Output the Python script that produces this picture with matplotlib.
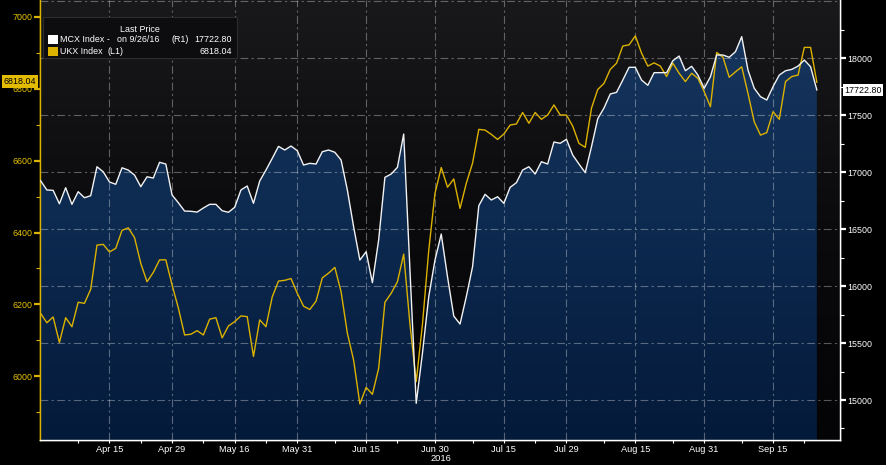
import numpy as np
import pandas as pd
import matplotlib
matplotlib.use("Agg")
import matplotlib.pyplot as plt
from matplotlib.patches import Polygon, Rectangle
from matplotlib.colors import LinearSegmentedColormap

plt.rcParams['font.family'] = ['Liberation Sans', 'DejaVu Sans']

# ---------------- data ----------------
uk_holidays = ['2016-05-02', '2016-05-30', '2016-08-29']
dates = pd.bdate_range('2016-03-31', '2016-09-26')
dates = dates[~dates.isin(pd.to_datetime(uk_holidays))]

mcx = [16925, 16844, 16841, 16723, 16864, 16718, 16829, 16776, 16794, 17048,
       17004, 16914, 16894, 17039, 17019, 16975, 16873, 16960, 16949, 17087,
       17072, 16800, 16732, 16659, 16657, 16650, 16686, 16718, 16718, 16662,
       16648, 16692, 16844, 16879, 16727, 16923, 17019, 17122, 17227, 17195,
       17230, 17189, 17063, 17078, 17072, 17180, 17195, 17175, 17107, 16844,
       16521, 16229, 16302, 16030, 16405, 16955, 16984, 17043, 17335, 16141,
       14971, 15413, 15907, 16229, 16457, 16082, 15737, 15667, 15907, 16170,
       16706, 16806, 16756, 16785, 16727, 16867, 16908, 17019, 17048, 16984,
       17092, 17072, 17265, 17254, 17289, 17151, 17072, 16996, 17224, 17470,
       17564, 17687, 17701, 17809, 17921, 17921, 17809, 17763, 17874, 17874,
       17874, 17979, 18020, 17891, 17930, 17853, 17737, 17838, 18029, 18029,
       18009, 18058, 18190, 17897, 17737, 17663, 17634, 17751, 17853, 17891,
       17903, 17932, 17985, 17926, 17722.80]

ukx = [6175, 6149, 6165, 6094, 6163, 6138, 6206, 6203, 6242, 6365,
       6367, 6346, 6356, 6406, 6413, 6386, 6314, 6263, 6289, 6324,
       6324, 6254, 6190, 6115, 6117, 6127, 6115, 6159, 6163, 6107,
       6140, 6152, 6168, 6166, 6055, 6157, 6138, 6221, 6265, 6267,
       6272, 6231, 6195, 6186, 6209, 6274, 6287, 6303, 6235, 6120,
       6045, 5923, 5969, 5950, 6022, 6206, 6231, 6263, 6340, 6145,
       5985, 6145, 6350, 6509, 6581, 6526, 6549, 6467, 6537, 6593,
       6687, 6685, 6673, 6659, 6674, 6699, 6702, 6734, 6704, 6734,
       6715, 6727, 6755, 6727, 6727, 6696, 6648, 6637, 6746, 6798,
       6815, 6854, 6871, 6919, 6922, 6947, 6899, 6863, 6872, 6863,
       6834, 6871, 6843, 6820, 6843, 6829, 6792, 6750, 6901, 6888,
       6832, 6847, 6861, 6787, 6708, 6671, 6678, 6736, 6715, 6820,
       6834, 6838, 6915, 6915, 6818.04]

major_dates = ['2016-04-15', '2016-04-29', '2016-05-16', '2016-05-31', '2016-06-15',
               '2016-06-30', '2016-07-15', '2016-07-29', '2016-08-15', '2016-08-31',
               '2016-09-15']
major_labels = ['Apr 15', 'Apr 29', 'May 16', 'May 31', 'Jun 15', 'Jun 30',
                'Jul 15', 'Jul 29', 'Aug 15', 'Aug 31', 'Sep 15']
minor_dates = ['2016-04-08', '2016-04-22', '2016-05-09', '2016-05-23', '2016-06-08',
               '2016-06-22', '2016-07-08', '2016-07-22', '2016-08-08', '2016-08-23',
               '2016-09-08', '2016-09-22']
left_ticks = [6000, 6200, 6400, 6600, 6800, 7000]
left_minor = [5900, 6100, 6300, 6500, 6700, 6900]
right_ticks = [15000, 15500, 16000, 16500, 17000, 17500, 18000]
right_minor = [14750, 15250, 15750, 16250, 16750, 17250, 17750, 18250]

last_mcx_label = '17722.80'
last_ukx_label = '6818.04'
last_date_label = '9/26/16'

# ---------------- figure ----------------
W, H = 886, 465
fig = plt.figure(figsize=(W / 100, H / 100), dpi=100, facecolor='black')
ax = fig.add_axes([40 / W, 25 / H, 800 / W, 440 / H])
ax2 = ax.twinx()

x = np.arange(len(dates))
pos = {d: i for i, d in enumerate(dates)}
major_idx = [pos[pd.Timestamp(d)] for d in major_dates]
minor_idx = [pos[pd.Timestamp(d)] for d in minor_dates]

xlim = (-0.1, 127.7)
ylim_l = (5822.8, 7046.9)
ylim_r = (14649, 18512)

YEL = '#dcb200'
YEL_TXT = '#e6c200'
FS = 6.4

# background gradient
grad = np.linspace(0, 1, 256).reshape(-1, 1)
bg_cmap = LinearSegmentedColormap.from_list('bg', ['#19191c', '#0b0b0e', '#040406'])
ax2.imshow(grad, extent=[xlim[0], xlim[1], ylim_r[0], ylim_r[1]], aspect='auto',
           cmap=bg_cmap, origin='upper', zorder=0, interpolation='bilinear')

# area under MCX with vertical gradient
fill_cmap = LinearSegmentedColormap.from_list('fill', ['#18375f', '#0d2a50', '#041a3a'])
im = ax2.imshow(grad, extent=[xlim[0], xlim[1], ylim_r[0], ylim_r[1]], aspect='auto',
                cmap=fill_cmap, origin='upper', zorder=1, interpolation='bilinear')
verts = [(x[0], ylim_r[0])] + list(zip(x, mcx)) + [(x[-1], ylim_r[0])]
poly = Polygon(verts, closed=True, facecolor='none', edgecolor='none',
               transform=ax2.transData)
ax2.add_patch(poly)
im.set_clip_path(poly)

# grid lines
gstyle = dict(color='white', alpha=0.33, linewidth=0.8, linestyle=(0, (7, 3, 2, 3)), zorder=2)
for v in right_ticks + [18500]:
    ax2.axhline(v, **gstyle)
for t in major_idx:
    ax2.axvline(t, **gstyle)

# series
ax2.plot(x, ukx, color=YEL, linewidth=1.0, zorder=4, transform=ax.transData)
ax2.plot(x, mcx, color='#f2f2f2', linewidth=1.0, zorder=5)

ax.set_xlim(*xlim)
ax2.set_xlim(*xlim)
ax.set_ylim(*ylim_l)
ax2.set_ylim(*ylim_r)

# spines
for a in (ax, ax2):
    a.spines['top'].set_visible(False)
    a.spines['left'].set_color(YEL)
    a.spines['right'].set_color('white')
    a.spines['bottom'].set_color('white')
    for s in a.spines.values():
        s.set_linewidth(1.0)
ax.set_facecolor('black')

# x axis
ax.set_xticks(major_idx)
ax.set_xticklabels(major_labels)
ax.set_xticks(minor_idx, minor=True)
ax.tick_params(axis='x', which='both', colors='white', direction='out', length=2.5,
               width=0.8, pad=1.0, labelsize=FS + 0.3)

# left axis
ax.set_yticks(left_ticks)
ax.set_yticks(left_minor, minor=True)
ax.tick_params(axis='y', which='major', colors=YEL, labelcolor=YEL_TXT, direction='out',
               length=4.5, width=1.6, pad=1.0, labelsize=FS)
ax.tick_params(axis='y', which='minor', colors=YEL, direction='out', length=3, width=0.8)

# right axis
ax2.set_yticks(right_ticks)
ax2.set_yticks(right_minor, minor=True)
ax2.tick_params(axis='y', which='major', colors='white', direction='out',
                length=4.5, width=1.6, pad=1.0, labelsize=FS)
ax2.tick_params(axis='y', which='minor', colors='white', direction='out', length=3, width=0.8)


def fx(px):
    return px / W


def fy(py):
    return 1 - py / H


# year label
fig.text(fx(451), fy(458), '2016', ha='right', va='center', color='white', fontsize=FS + 0.3)

# legend
fig.add_artist(Rectangle((fx(43), fy(58)), 194 / W, 41 / H, transform=fig.transFigure,
                         facecolor='#0d0d0f', edgecolor='#2c2c2c', linewidth=0.8, zorder=5))
fig.text(fx(140), fy(29), 'Last Price', ha='center', va='center', color='white',
         fontsize=FS, zorder=6)
fig.add_artist(Rectangle((fx(48), fy(44.5)), 9.5 / W, 9.5 / H, transform=fig.transFigure,
                         facecolor='white', edgecolor='none', zorder=6))
fig.add_artist(Rectangle((fx(48), fy(56.5)), 9.5 / W, 9.5 / H, transform=fig.transFigure,
                         facecolor=YEL, edgecolor='none', zorder=6))
fig.text(fx(60), fy(40), 'MCX Index -', ha='left', va='center', color='white', fontsize=FS, zorder=6)
fig.text(fx(117), fy(40), 'on ' + last_date_label, ha='left', va='center', color='white',
         fontsize=FS, zorder=6)
fig.text(fx(172), fy(40), '(R1)', ha='left', va='center', color='white', fontsize=FS, zorder=6)
fig.text(fx(232), fy(40), last_mcx_label, ha='right', va='center', color='white', fontsize=FS, zorder=6)
fig.text(fx(60), fy(52), 'UKX Index', ha='left', va='center', color='white', fontsize=FS, zorder=6)
fig.text(fx(108), fy(52), '(L1)', ha='left', va='center', color='white', fontsize=FS, zorder=6)
fig.text(fx(232), fy(52), last_ukx_label, ha='right', va='center', color='white', fontsize=FS, zorder=6)

# last value tags
fig.text(fx(20), fy(81.5), last_ukx_label, ha='center', va='center', color='black', fontsize=FS,
         zorder=7, bbox=dict(boxstyle='square,pad=0.18', facecolor='#e3bb00', edgecolor='none'))
fig.text(fx(863), fy(90), last_mcx_label, ha='center', va='center', color='black', fontsize=FS,
         zorder=7, bbox=dict(boxstyle='square,pad=0.18', facecolor='white', edgecolor='none'))

fig.savefig('out.png', dpi=100, facecolor='black')
